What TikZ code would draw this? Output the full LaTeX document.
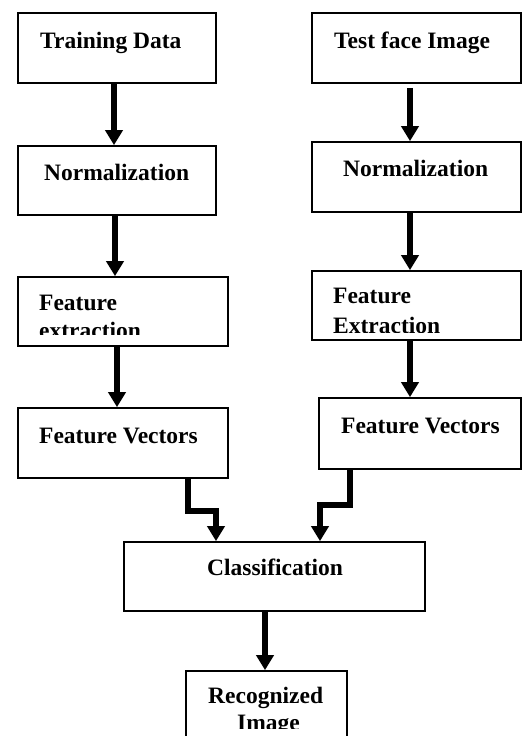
\documentclass[tikz,border=0pt]{standalone}
\usepackage{fontspec}
\setmainfont{Liberation Serif}
\usetikzlibrary{arrows.meta}
\tikzset{
  box/.style={draw, line width=1.7pt, rectangle, inner sep=0pt},
  lbl/.style={anchor=base west, inner sep=0pt, font=\fontsize{23.5}{28}\selectfont\bfseries},
  arr/.style={line width=5.5pt, -{Triangle[length=15pt,width=17pt]}, miter limit=10},
}
\begin{document}
\begin{tikzpicture}[x=1pt,y=-1pt]
\fill[white] (0,0) rectangle (523,736);
\useasboundingbox (0,0) rectangle (523,736);
% boxes
\node[box, minimum width=198pt, minimum height=70pt] (td) at (117,48) {};
\node[box, minimum width=209pt, minimum height=70pt] (tf) at (416.5,48) {};
\node[box, minimum width=198pt, minimum height=69pt] (n1) at (117,180.5) {};
\node[box, minimum width=209pt, minimum height=70pt] (n2) at (416.5,177) {};
\node[box, minimum width=210pt, minimum height=69pt] (fe1) at (123,311.5) {};
\node[box, minimum width=209pt, minimum height=69pt] (fe2) at (416.5,305.5) {};
\node[box, minimum width=210pt, minimum height=70pt] (fv1) at (123,443) {};
\node[box, minimum width=202pt, minimum height=71pt] (fv2) at (420,433.5) {};
\node[box, minimum width=301pt, minimum height=69pt] (cl) at (274.5,576.5) {};
\begin{scope}
\clip (0,0) rectangle (523,736);
\node[box, minimum width=161pt, minimum height=89pt] (ri) at (266.5,715.5) {};
\end{scope}
% texts
\node[lbl] (t1) at (40,48) {Training Data};
\node[lbl] (t2) at (334,48) {Test face Image};
\node[lbl] (t3) at (44,180) {Normalization};
\node[lbl] (t4) at (343,176) {Normalization};
\node[lbl] (t5) at (39,310) {Feature};
\begin{scope}
\clip (20,280) rectangle (226,334);
\node[lbl] (t6) at (39,338) {extraction};
\end{scope}
\node[lbl] (t7) at (333,303) {Feature};
\begin{scope}
\clip (314,275) rectangle (519,332);
\node[lbl] (t8) at (333,333) {Extraction};
\end{scope}
\node[lbl] (t9) at (39,443) {Feature Vectors};
\node[lbl] (t10) at (341,433) {Feature Vectors};
\node[lbl] (t11) at (207,575) {Classification};
\node[lbl] (t12) at (208,703) {Recognized};
\begin{scope}
\clip (188,673) rectangle (345,728);
\node[lbl] (t13) at (237,730) {Image};
\end{scope}
% arrows
\draw[arr] ([xshift=-3pt]td.south) -- ([xshift=-3pt]n1.north);
\draw[arr] ([xshift=-6.5pt,yshift=-4pt]tf.south) -- ([xshift=-6.5pt]n2.north);
\draw[arr] ([xshift=-2pt]n1.south) -- ([xshift=-8pt]fe1.north);
\draw[arr] ([xshift=-6.5pt]n2.south) -- ([xshift=-6.5pt]fe2.north);
\draw[arr] ([xshift=-6pt]fe1.south) -- ([xshift=-6pt]fv1.north);
\draw[arr] ([xshift=-6.5pt]fe2.south) -- ([xshift=-10pt]fv2.north);
\draw[arr] ([xshift=65pt]fv1.south) -- ++(0,32) -| ([xshift=-58.5pt]cl.north);
\draw[arr] ([xshift=-70pt]fv2.south) -- ++(0,35) -| ([xshift=45.5pt]cl.north);
\draw[arr] ([xshift=-9.5pt]cl.south) -- ([xshift=-1.5pt]ri.north);
\end{tikzpicture}
\end{document}
